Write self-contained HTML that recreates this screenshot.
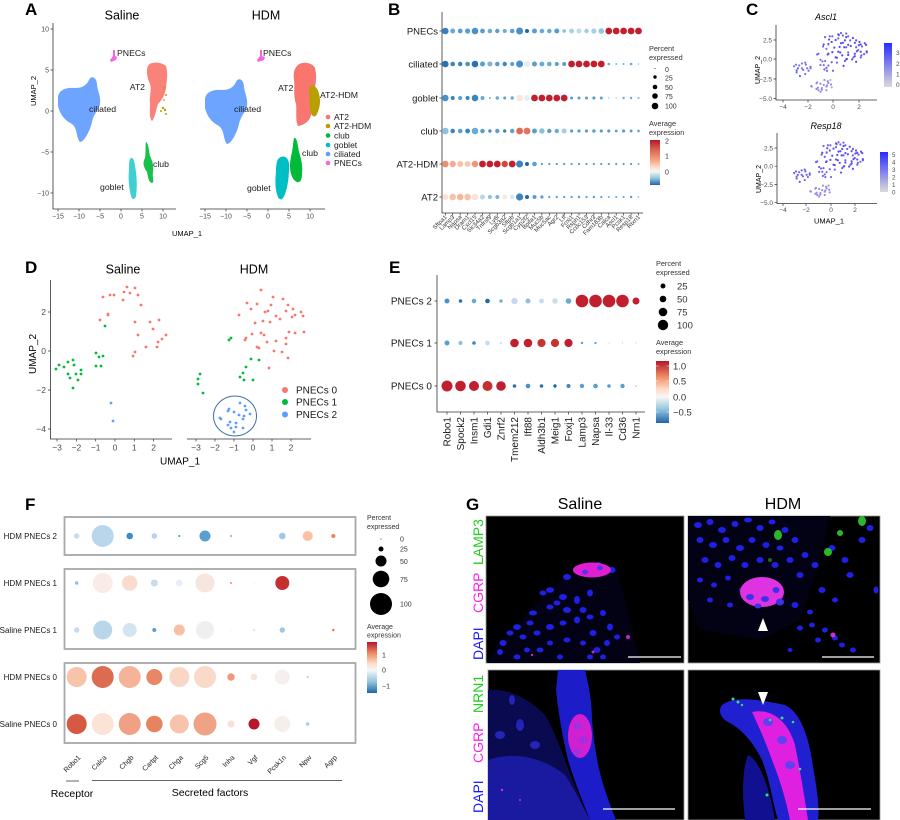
<!DOCTYPE html>
<html><head><meta charset="utf-8"><style>
html,body{margin:0;padding:0;background:#fff;}
svg{display:block;font-family:"Liberation Sans",Arial,sans-serif;}
.ax{stroke:#333;stroke-width:0.8;fill:none}
.tk{stroke:#333;stroke-width:0.7}
.pt{fill:none;stroke-linecap:round}
.lt{font-weight:bold;font-size:17px;fill:#000}
</style></head><body>
<svg width="900" height="820" viewBox="0 0 900 820" xmlns="http://www.w3.org/2000/svg">
<defs>
<linearGradient id="rdbuB" x1="0" y1="0" x2="0" y2="1">
<stop offset="0" stop-color="#b2182b"/><stop offset="0.2" stop-color="#d6604d"/><stop offset="0.45" stop-color="#f4a582"/><stop offset="0.6" stop-color="#fddbc7"/><stop offset="0.7" stop-color="#f7f7f7"/><stop offset="0.85" stop-color="#92c5de"/><stop offset="1" stop-color="#2166ac"/></linearGradient>
<linearGradient id="rdbuE" x1="0" y1="0" x2="0" y2="1">
<stop offset="0" stop-color="#b2182b"/><stop offset="0.25" stop-color="#ef8a62"/><stop offset="0.45" stop-color="#fddbc7"/><stop offset="0.58" stop-color="#f7f7f7"/><stop offset="0.78" stop-color="#92c5de"/><stop offset="1" stop-color="#2166ac"/></linearGradient>
<linearGradient id="rdbuF" x1="0" y1="0" x2="0" y2="1">
<stop offset="0" stop-color="#b2182b"/><stop offset="0.22" stop-color="#ef8a62"/><stop offset="0.42" stop-color="#fddbc7"/><stop offset="0.55" stop-color="#f7f7f7"/><stop offset="0.78" stop-color="#92c5de"/><stop offset="1" stop-color="#2166ac"/></linearGradient>
<linearGradient id="pur" x1="0" y1="0" x2="0" y2="1"><stop offset="0" stop-color="#2a2aff"/><stop offset="1" stop-color="#dadada"/></linearGradient>
<path id="sR" vector-effect="non-scaling-stroke" d="M103 297h.01M110 295h.01M114 295h.01M124 292h.01M130 293h.01M127 287h.01M135 288h.01M138 295h.01M123 300h.01M141 305h.01M108 314h.01M108 315h.01M100 320h.01M135 322h.01M150 322h.01M159 320h.01M153 329h.01M138 335h.01M166 335h.01M162 339h.01M158 342h.01M146 347h.01M157 347h.01M135 352h.01M133 356h.01"/>
<path id="sG" vector-effect="non-scaling-stroke" d="M105 326h.01M96 353h.01M99 357h.01M103 356h.01M96 366h.01M101 366h.01M56 369h.01M59 365h.01M64 367h.01M68 362h.01M73 360h.01M74 365h.01M68 374h.01M76 374h.01M81 370h.01M81 374h.01M70 378h.01M78 380h.01M73 388h.01"/>
<path id="sB" vector-effect="non-scaling-stroke" d="M111 403h.01M113 421h.01"/>
<path id="hR" vector-effect="non-scaling-stroke" d="M261 290h.01M239 315h.01M247 303h.01M251 309h.01M257 304h.01M265 312h.01M268 311h.01M273 297h.01M271 305h.01M283 299h.01M288 305h.01M286 311h.01M293 309h.01M295 315h.01M301 312h.01M303 316h.01M292 317h.01M280 319h.01M276 316h.01M270 322h.01M263 321h.01M255 323h.01M261 333h.01M264 335h.01M252 334h.01M246 338h.01M245 340h.01M257 347h.01M259 348h.01M267 342h.01M276 341h.01M286 338h.01M289 332h.01M295 333h.01M304 332h.01M274 351h.01M282 352h.01M286 344h.01M288 358h.01M269 368h.01"/>
<path id="hG" vector-effect="non-scaling-stroke" d="M229 340h.01M231 338h.01M251 359h.01M259 360h.01M246 367h.01M243 373h.01M240 377h.01M244 380h.01M253 380h.01M200 374h.01M198 379h.01M198 384h.01M203 393h.01"/>
<path id="hB" vector-effect="non-scaling-stroke" d="M240 403h.01M228 411h.01M234 412h.01M239 415h.01M246 410h.01M221 419h.01M230 422h.01M236 423h.01M243 419h.01M244 416h.01M228 425h.01M231 428h.01M236 427h.01M243 428h.01M234 432h.01M250 414h.01M220 418h.01M245 406h.01M229 409h.01"/>
<path id="cil" d="M58,98 C58,90 66,87 75,88 C82,88 86,86 89,80 C91,75 97,77 97,85 C98,92 101,97 100,104 C99,110 94,113 92,122 C90,131 84,142 80,142 C76,138 78,129 72,124 C64,120 60,114 58,106 Z"/>
</defs>

<!-- ============ PANEL A ============ -->
<text class="lt" x="25" y="15">A</text>
<text x="122" y="19.5" font-size="12.5" text-anchor="middle">Saline</text>
<text x="266" y="19.5" font-size="12.5" text-anchor="middle">HDM</text>
<path class="ax" d="M53 23V209H176M200 209H325"/>
<g class="tk"><path d="M50.5 29H53M50.5 70H53M50.5 111H53M50.5 152H53M50.5 193H53M58 209v2.5M79 209v2.5M100 209v2.5M121 209v2.5M142 209v2.5M163 209v2.5M205 209v2.5M226 209v2.5M247 209v2.5M268 209v2.5M289 209v2.5M310 209v2.5"/></g>
<g font-size="7" fill="#4d4d4d" text-anchor="end"><text x="49" y="31.5">10</text><text x="49" y="72.5">5</text><text x="49" y="113.5">0</text><text x="49" y="154.5">−5</text><text x="49" y="195.5">−10</text></g>
<g font-size="7" fill="#4d4d4d" text-anchor="middle"><text x="58" y="218.5">−15</text><text x="79" y="218.5">−10</text><text x="100" y="218.5">−5</text><text x="121" y="218.5">0</text><text x="142" y="218.5">5</text><text x="163" y="218.5">10</text><text x="205" y="218.5">−15</text><text x="226" y="218.5">−10</text><text x="247" y="218.5">−5</text><text x="268" y="218.5">0</text><text x="289" y="218.5">5</text><text x="310" y="218.5">10</text></g>
<text x="187" y="236" font-size="7.5" text-anchor="middle">UMAP_1</text>
<text transform="translate(36,91) rotate(-90)" font-size="7.5" text-anchor="middle">UMAP_2</text>
<use href="#cil" fill="#619CFF" opacity="0.92"/>
<path d="M148,66 C150,61 162,62 166,66 C168,72 167,80 166,88 C165,95 162,100 158,104 C156,110 155,118 152,121 C149,118 150,110 150,104 C149,96 152,90 150,84 C147,78 146,70 148,66 Z" fill="#F8766D" opacity="0.9"/>
<g fill="#B79F00"><circle cx="164" cy="88" r="1"/><circle cx="166" cy="95" r="1"/><circle cx="163" cy="108" r="1.2"/><circle cx="165" cy="110" r="1.2"/><circle cx="161" cy="111" r="1"/><circle cx="166" cy="114" r="1"/><circle cx="164" cy="100" r="0.9"/></g>
<path d="M146,142 C148,142 149,150 150,156 C152,160 154,165 153,172 C152,178 155,182 152,183 C148,182 148,176 147,172 C144,168 142,163 145,158 C146,152 145,146 146,142 Z" fill="#00BA38" opacity="0.9"/>
<path d="M131,158 C134,157 135,164 136,172 C137,180 137,190 136,196 C135,200 132,200 131,196 C129,188 128,178 129,170 C129,164 129,159 131,158 Z" fill="#00BFC4" opacity="0.75"/>
<path d="M113,50 L115,50 L115,56 L117,57 L116,60 L111,62 L110,60 L113,56 Z" fill="#F564E3"/>
<use href="#cil" transform="translate(147,2)" fill="#619CFF" opacity="0.92"/>
<path d="M297,66 C301,61 312,62 315,68 C317,76 316,84 314,92 C313,100 314,110 310,118 C307,124 300,126 298,126 C295,120 297,110 296,104 C293,96 295,88 294,80 C293,74 294,69 297,66 Z" fill="#F8766D"/>
<path d="M310,86 C314,84 318,88 319,94 C321,100 320,108 317,114 C315,118 312,117 311,112 C309,106 310,98 309,92 Z" fill="#B79F00"/>
<path d="M294,138 C297,137 298,146 299,152 C301,158 303,166 302,174 C302,180 300,183 297,182 C292,180 290,172 290,166 C290,158 293,150 293,144 Z" fill="#00BA38"/>
<path d="M281,157 C286,155 290,160 289,168 C289,176 288,186 285,194 C283,200 280,201 278,197 C275,190 275,180 276,172 C276,164 277,158 281,157 Z" fill="#00BFC4"/>
<path d="M260,50 L262,50 L262,56 L265,57 L264,60 L258,62 L257,60 L260,56 Z" fill="#F564E3"/>
<g font-size="8.7" fill="#1a1a1a">
<text x="117" y="56">PNECs</text><text x="145" y="90" text-anchor="end">AT2</text><text x="89" y="112">ciliated</text><text x="153" y="167">club</text><text x="100" y="190">goblet</text>
<text x="263" y="56">PNECs</text><text x="278" y="91">AT2</text><text x="320" y="98">AT2-HDM</text><text x="234" y="112">ciliated</text><text x="302" y="156">club</text><text x="247" y="191">goblet</text>
</g>
<g><circle cx="328" cy="117" r="2.3" fill="#F8766D"/><circle cx="328" cy="126" r="2.3" fill="#B79F00"/><circle cx="328" cy="135.5" r="2.3" fill="#00BA38"/><circle cx="328" cy="145" r="2.3" fill="#00BFC4"/><circle cx="328" cy="154" r="2.3" fill="#619CFF"/><circle cx="328" cy="163" r="2.3" fill="#F564E3"/></g>
<g font-size="8.5" fill="#1a1a1a"><text x="334" y="120">AT2</text><text x="334" y="129">AT2-HDM</text><text x="334" y="138.5">club</text><text x="334" y="148">goblet</text><text x="334" y="157">ciliated</text><text x="334" y="166">PNECs</text></g>

<!-- ============ PANEL B ============ -->
<text class="lt" x="388" y="15">B</text>
<path class="ax" d="M442 12V213H643"/>
<g class="tk"><path d="M439.5 31H442M439.5 64H442M439.5 98H442M439.5 131H442M439.5 164H442M439.5 197H442"/>
<path d="M445.3 213v2.5M452.7 213v2.5M460.2 213v2.5M467.6 213v2.5M475 213v2.5M482.5 213v2.5M489.9 213v2.5M497.3 213v2.5M504.7 213v2.5M512.2 213v2.5M519.6 213v2.5M527 213v2.5M534.5 213v2.5M541.9 213v2.5M549.3 213v2.5M556.8 213v2.5M564.2 213v2.5M571.6 213v2.5M579 213v2.5M586.5 213v2.5M593.9 213v2.5M601.3 213v2.5M608.8 213v2.5M616.2 213v2.5M623.6 213v2.5M631.1 213v2.5M638.5 213v2.5"/></g>
<g font-size="9.5" fill="#1a1a1a" text-anchor="end"><text x="438" y="34.5">PNECs</text><text x="438" y="67.5">ciliated</text><text x="438" y="101.5">goblet</text><text x="438" y="134.5">club</text><text x="438" y="167.5">AT2-HDM</text><text x="438" y="200.5">AT2</text></g>
<g transform="translate(0,31)">
<circle cx="445.3" r="3.3" fill="#3a7fbb"/><circle cx="452.7" r="2.5" fill="#6aaad6"/><circle cx="460.2" r="2.4" fill="#5a9ecf"/><circle cx="467.6" r="2.6" fill="#5a9ecf"/><circle cx="475" r="3.3" fill="#4a90c8"/><circle cx="482.5" r="2.4" fill="#5a9ecf"/><circle cx="489.9" r="2.3" fill="#6aaad6"/><circle cx="497.3" r="2.2" fill="#5a9ecf"/><circle cx="504.7" r="2" fill="#6aaad6"/><circle cx="512.2" r="2.3" fill="#5a9ecf"/><circle cx="519.6" r="3.5" fill="#4a90c8"/><circle cx="527" r="2" fill="#2166ac"/><circle cx="534.5" r="2.5" fill="#5a9ecf"/><circle cx="541.9" r="2.3" fill="#6aaad6"/><circle cx="549.3" r="2.3" fill="#6aaad6"/><circle cx="556.8" r="2.5" fill="#5a9ecf"/><circle cx="564.2" r="1.8" fill="#8cc0dd"/><circle cx="571.6" r="2.4" fill="#a8d0e6"/><circle cx="579" r="2.5" fill="#bcdaeb"/><circle cx="586.5" r="2.2" fill="#a0cbe3"/><circle cx="593.9" r="2.6" fill="#a8d0e6"/><circle cx="601.3" r="2.8" fill="#92c5de"/>
<circle cx="608.8" r="3.4" fill="#c11f2f"/><circle cx="616.2" r="3.4" fill="#c11f2f"/><circle cx="623.6" r="3.4" fill="#c11f2f"/><circle cx="631.1" r="3.4" fill="#c11f2f"/><circle cx="638.5" r="3.4" fill="#c11f2f"/></g>
<g transform="translate(0,64)">
<circle cx="445.3" r="3.3" fill="#2c72b0"/><circle cx="452.7" r="2.3" fill="#3b85bf"/><circle cx="460.2" r="2.3" fill="#3b85bf"/><circle cx="467.6" r="2.3" fill="#4a90c8"/><circle cx="475" r="3.3" fill="#2c72b0"/><circle cx="482.5" r="2.5" fill="#5a9ecf"/><circle cx="489.9" r="2.5" fill="#7ab4da"/><circle cx="497.3" r="2.3" fill="#5a9ecf"/><circle cx="504.7" r="2.2" fill="#3b85bf"/><circle cx="512.2" r="2" fill="#5a9ecf"/><circle cx="519.6" r="3.5" fill="#4a90c8"/><circle cx="527" r="3" fill="#e3eef6"/><circle cx="534.5" r="2.5" fill="#5a9ecf"/><circle cx="541.9" r="2.4" fill="#6aaad6"/><circle cx="549.3" r="2.3" fill="#6aaad6"/><circle cx="556.8" r="2" fill="#5a9ecf"/><circle cx="564.2" r="2" fill="#5a9ecf"/>
<circle cx="571.6" r="3.4" fill="#c11f2f"/><circle cx="579" r="3.4" fill="#c11f2f"/><circle cx="586.5" r="3.4" fill="#c11f2f"/><circle cx="593.9" r="3.4" fill="#c11f2f"/><circle cx="601.3" r="3.4" fill="#c11f2f"/>
<circle cx="608.8" r="1.3" fill="#6aaad6"/><circle cx="616.2" r="0.9" fill="#6aaad6"/><circle cx="623.6" r="1" fill="#6aaad6"/><circle cx="631.1" r="1.3" fill="#6aaad6"/><circle cx="638.5" r="0.8" fill="#8cc0dd"/></g>
<g transform="translate(0,98)">
<circle cx="445.3" r="3.3" fill="#4a90c8"/><circle cx="452.7" r="2" fill="#3b85bf"/><circle cx="460.2" r="2" fill="#5a9ecf"/><circle cx="467.6" r="2" fill="#3b85bf"/><circle cx="475" r="3.3" fill="#3b85bf"/><circle cx="482.5" r="2" fill="#6aaad6"/><circle cx="489.9" r="1" fill="#6aaad6"/><circle cx="497.3" r="1.7" fill="#6aaad6"/><circle cx="504.7" r="1.5" fill="#5a9ecf"/><circle cx="512.2" r="1.7" fill="#6aaad6"/><circle cx="519.6" r="3.3" fill="#f9e6de"/><circle cx="527" r="3" fill="#e8eff5"/>
<circle cx="534.5" r="3.4" fill="#c11f2f"/><circle cx="541.9" r="3.4" fill="#c11f2f"/><circle cx="549.3" r="3.4" fill="#c11f2f"/><circle cx="556.8" r="3.4" fill="#c11f2f"/><circle cx="564.2" r="3.4" fill="#c11f2f"/>
<circle cx="571.6" r="1.5" fill="#5a9ecf"/><circle cx="579" r="1.5" fill="#5a9ecf"/><circle cx="586.5" r="1.5" fill="#5a9ecf"/><circle cx="593.9" r="1.6" fill="#5a9ecf"/><circle cx="601.3" r="1.5" fill="#5a9ecf"/><circle cx="608.8" r="0.8" fill="#a6cde5"/><circle cx="616.2" r="0.7" fill="#a6cde5"/><circle cx="623.6" r="1.2" fill="#6aaad6"/><circle cx="631.1" r="1.2" fill="#6aaad6"/><circle cx="638.5" r="1.1" fill="#8cc0dd"/></g>
<g transform="translate(0,131)">
<circle cx="445.3" r="3.3" fill="#8cc0dd"/><circle cx="452.7" r="2.3" fill="#3b85bf"/><circle cx="460.2" r="2.3" fill="#5a9ecf"/><circle cx="467.6" r="2.4" fill="#3b85bf"/><circle cx="475" r="3.3" fill="#6aaad6"/><circle cx="482.5" r="2.3" fill="#5a9ecf"/><circle cx="489.9" r="1.7" fill="#4a90c8"/><circle cx="497.3" r="2.2" fill="#5a9ecf"/><circle cx="504.7" r="1.7" fill="#3b85bf"/><circle cx="512.2" r="2.2" fill="#5a9ecf"/><circle cx="519.6" r="3.4" fill="#e0694f"/><circle cx="527" r="3.4" fill="#e57358"/><circle cx="534.5" r="2.5" fill="#5a9ecf"/><circle cx="541.9" r="2.7" fill="#8cc0dd"/><circle cx="549.3" r="2.2" fill="#5a9ecf"/><circle cx="556.8" r="2.2" fill="#6aaad6"/><circle cx="564.2" r="2.5" fill="#a6cde5"/>
<circle cx="571.6" r="1.6" fill="#5a9ecf"/><circle cx="579" r="1.6" fill="#5a9ecf"/><circle cx="586.5" r="1.6" fill="#5a9ecf"/><circle cx="593.9" r="1.7" fill="#5a9ecf"/><circle cx="601.3" r="1.6" fill="#5a9ecf"/><circle cx="608.8" r="1.6" fill="#5a9ecf"/><circle cx="616.2" r="1.4" fill="#5a9ecf"/><circle cx="623.6" r="1.6" fill="#5a9ecf"/><circle cx="631.1" r="1.5" fill="#5a9ecf"/><circle cx="638.5" r="1.4" fill="#6aaad6"/></g>
<g transform="translate(0,164)">
<circle cx="445.3" r="3.3" fill="#ec8f6f"/><circle cx="452.7" r="3.2" fill="#f3ad92"/><circle cx="460.2" r="3" fill="#f6c2aa"/><circle cx="467.6" r="3" fill="#f7c9b4"/><circle cx="475" r="3.2" fill="#ee9777"/>
<circle cx="482.5" r="3.4" fill="#c11f2f"/><circle cx="489.9" r="3.4" fill="#c11f2f"/><circle cx="497.3" r="3.4" fill="#c11f2f"/><circle cx="504.7" r="3.2" fill="#d04a3c"/><circle cx="512.2" r="3.4" fill="#c11f2f"/>
<circle cx="519.6" r="3.5" fill="#3b85bf"/><circle cx="527" r="2" fill="#2166ac"/><circle cx="534.5" r="2.3" fill="#5a9ecf"/>
<circle cx="541.9" r="1.1" fill="#5a9ecf"/><circle cx="549.3" r="1.1" fill="#5a9ecf"/><circle cx="556.8" r="1.1" fill="#5a9ecf"/><circle cx="564.2" r="1.1" fill="#5a9ecf"/><circle cx="571.6" r="1.1" fill="#5a9ecf"/><circle cx="579" r="1.1" fill="#5a9ecf"/><circle cx="586.5" r="1.1" fill="#5a9ecf"/><circle cx="593.9" r="1.1" fill="#5a9ecf"/><circle cx="601.3" r="1.1" fill="#5a9ecf"/><circle cx="608.8" r="1.1" fill="#5a9ecf"/><circle cx="616.2" r="1.1" fill="#5a9ecf"/><circle cx="623.6" r="1.1" fill="#5a9ecf"/><circle cx="631.1" r="1.1" fill="#5a9ecf"/><circle cx="638.5" r="1" fill="#6aaad6"/></g>
<g transform="translate(0,197)">
<circle cx="445.3" r="3" fill="#fbe0d3"/><circle cx="452.7" r="3.3" fill="#f6c3ab"/><circle cx="460.2" r="3.3" fill="#f5b89d"/><circle cx="467.6" r="3.3" fill="#f6c3ab"/><circle cx="475" r="3.3" fill="#fbe3d6"/><circle cx="482.5" r="2.5" fill="#b8d8ea"/><circle cx="489.9" r="2" fill="#8cc0dd"/><circle cx="497.3" r="2" fill="#7ab4da"/><circle cx="504.7" r="2.3" fill="#fbe6dd"/><circle cx="512.2" r="2.3" fill="#d6e8f2"/><circle cx="519.6" r="3.6" fill="#3b85bf"/><circle cx="527" r="2" fill="#2166ac"/><circle cx="534.5" r="2" fill="#5a9ecf"/><circle cx="541.9" r="1.6" fill="#5a9ecf"/>
<circle cx="549.3" r="1.1" fill="#5a9ecf"/><circle cx="556.8" r="1.1" fill="#5a9ecf"/><circle cx="564.2" r="1.1" fill="#5a9ecf"/><circle cx="571.6" r="1.1" fill="#5a9ecf"/><circle cx="579" r="1.2" fill="#5a9ecf"/><circle cx="586.5" r="1.1" fill="#5a9ecf"/><circle cx="593.9" r="1.2" fill="#5a9ecf"/><circle cx="601.3" r="1.1" fill="#5a9ecf"/><circle cx="608.8" r="1" fill="#6aaad6"/><circle cx="616.2" r="1" fill="#6aaad6"/><circle cx="623.6" r="1" fill="#5a9ecf"/><circle cx="631.1" r="1.2" fill="#5a9ecf"/><circle cx="638.5" r="0.9" fill="#8cc0dd"/></g>
<g font-size="6" fill="#333" text-anchor="end">
<text transform="translate(447.3,217.5) rotate(-45)">Sftpa1</text><text transform="translate(454.7,217.5) rotate(-45)">Lamp3</text><text transform="translate(462.2,217.5) rotate(-45)">Napsa</text><text transform="translate(469.6,217.5) rotate(-45)">Dram1</text><text transform="translate(477,217.5) rotate(-45)">Cxcl15</text><text transform="translate(484.5,217.5) rotate(-45)">Slc34a2</text><text transform="translate(491.9,217.5) rotate(-45)">Tnfrsf9</text><text transform="translate(499.3,217.5) rotate(-45)">Ly6i</text><text transform="translate(506.7,217.5) rotate(-45)">Scgb3a2</text><text transform="translate(514.2,217.5) rotate(-45)">Sftpb</text><text transform="translate(521.6,217.5) rotate(-45)">Scgb1a1</text><text transform="translate(529,217.5) rotate(-45)">Cyp2f2</text><text transform="translate(536.5,217.5) rotate(-45)">Bpifa1</text><text transform="translate(543.9,217.5) rotate(-45)">Muc5b</text><text transform="translate(551.3,217.5) rotate(-45)">Muc5ac</text><text transform="translate(558.8,217.5) rotate(-45)">Agr2</text><text transform="translate(566.2,217.5) rotate(-45)">Ltf</text><text transform="translate(573.6,217.5) rotate(-45)">Foxj1</text><text transform="translate(581,217.5) rotate(-45)">Rsph1</text><text transform="translate(588.5,217.5) rotate(-45)">Ccdc153</text><text transform="translate(595.9,217.5) rotate(-45)">Cdhr3</text><text transform="translate(603.3,217.5) rotate(-45)">Fam183b</text><text transform="translate(610.8,217.5) rotate(-45)">Calca</text><text transform="translate(618.2,217.5) rotate(-45)">Ascl1</text><text transform="translate(625.6,217.5) rotate(-45)">Pcsk1</text><text transform="translate(633.1,217.5) rotate(-45)">Resp18</text><text transform="translate(640.5,217.5) rotate(-45)">Rtxn1</text>
</g>
<g font-size="7.3" fill="#333"><text x="649" y="51">Percent</text><text x="649" y="60">expressed</text><text x="649" y="126">Average</text><text x="649" y="135">expression</text></g>
<g fill="#000"><circle cx="655" cy="68.5" r="0.5"/><circle cx="655" cy="77" r="1.7"/><circle cx="655" cy="87" r="2.3"/><circle cx="655" cy="96" r="2.8"/><circle cx="655" cy="106" r="3.3"/></g>
<g font-size="7" fill="#333"><text x="665" y="72">0</text><text x="665" y="80.5">25</text><text x="665" y="90">50</text><text x="665" y="99">75</text><text x="665" y="108.5">100</text></g>
<rect x="650" y="140" width="10" height="45" fill="url(#rdbuB)"/>
<g font-size="7" fill="#333"><text x="665" y="143.5">2</text><text x="665" y="158.5">1</text><text x="665" y="174.5">0</text></g>

<!-- ============ PANEL C ============ -->
<text class="lt" x="746" y="15">C</text>
<text x="826" y="20" font-size="9" font-style="italic" text-anchor="middle">Ascl1</text>
<path class="ax" d="M776 25V100H877"/>
<g class="tk"><path d="M773.5 40H776M773.5 59H776M773.5 79H776M773.5 98.5H776M783 100v2.5M808 100v2.5M833 100v2.5M859 100v2.5"/></g>
<g font-size="6.5" fill="#4d4d4d" text-anchor="end"><text x="772" y="42.3">2.5</text><text x="772" y="61.3">0.0</text><text x="772" y="81.3">−2.5</text><text x="772" y="100.8">−5.0</text></g>
<g font-size="6.5" fill="#4d4d4d" text-anchor="middle"><text x="783" y="109">−4</text><text x="808" y="109">−2</text><text x="833" y="109">0</text><text x="859" y="109">2</text></g>
<text transform="translate(760,70) rotate(-90)" font-size="7" text-anchor="middle">UMAP_2</text>
<g class="pt" stroke-width="2.2">
<g transform="translate(833,59) scale(0.661,0.405) translate(-115,-351)"><use href="#sR" stroke="#6a5ef2"/><use href="#sG" stroke="#7a70ee"/><use href="#sB" stroke="#b0acdc"/></g>
<g transform="translate(833,59) scale(0.661,0.405) translate(-253,-351)"><use href="#hR" stroke="#5447f6"/><use href="#hG" stroke="#6e63f0"/><use href="#hB" stroke="#9089ea"/></g>
</g>
<rect x="884" y="43" width="8" height="44" fill="url(#pur)"/>
<g font-size="6.5" fill="#4d4d4d"><text x="896" y="55">3</text><text x="896" y="66">2</text><text x="896" y="76.5">1</text><text x="896" y="87">0</text></g>

<text x="826" y="129" font-size="9" font-style="italic" text-anchor="middle">Resp18</text>
<path class="ax" d="M777 133V203.5H877"/>
<g class="tk"><path d="M774.5 148H777M774.5 166.2H777M774.5 184.5H777M774.5 202.7H777M783 203.5v2.5M806 203.5v2.5M831 203.5v2.5M855 203.5v2.5"/></g>
<g font-size="6.5" fill="#4d4d4d" text-anchor="end"><text x="773" y="150.3">2.5</text><text x="773" y="168.5">0.0</text><text x="773" y="186.8">−2.5</text><text x="773" y="205">−5.0</text></g>
<g font-size="6.5" fill="#4d4d4d" text-anchor="middle"><text x="783" y="212">−4</text><text x="806" y="212">−2</text><text x="831" y="212">0</text><text x="855" y="212">2</text></g>
<text transform="translate(761,179) rotate(-90)" font-size="7" text-anchor="middle">UMAP_2</text>
<text x="829" y="223.5" font-size="7.5" text-anchor="middle">UMAP_1</text>
<g class="pt" stroke-width="2.2">
<g transform="translate(831,166.2) scale(0.625,0.374) translate(-115,-351)"><use href="#sR" stroke="#6c61f0"/><use href="#sG" stroke="#6a5ff0"/><use href="#sB" stroke="#9d96e8"/></g>
<g transform="translate(831,166.2) scale(0.625,0.374) translate(-253,-351)"><use href="#hR" stroke="#5a4cf3"/><use href="#hG" stroke="#6c62f0"/><use href="#hB" stroke="#958eea"/></g>
</g>
<rect x="880" y="152" width="8" height="40" fill="url(#pur)"/>
<g font-size="6.2" fill="#4d4d4d"><text x="892" y="157">5</text><text x="892" y="164.5">4</text><text x="892" y="172">3</text><text x="892" y="179.5">2</text><text x="892" y="187">1</text><text x="892" y="194.5">0</text></g>

<!-- ============ PANEL D ============ -->
<text class="lt" x="25" y="273">D</text>
<text x="123" y="273.5" font-size="12.5" text-anchor="middle">Saline</text>
<text x="254" y="273.5" font-size="12.5" text-anchor="middle">HDM</text>
<path class="ax" d="M50.5 280V439H172M187 439H311"/>
<g class="tk"><path d="M48 312H50.5M48 351H50.5M48 390H50.5M48 429H50.5M57 439v2.5M76.4 439v2.5M95.7 439v2.5M115 439v2.5M134.3 439v2.5M153.6 439v2.5M196 439v2.5M215 439v2.5M234 439v2.5M253 439v2.5M272 439v2.5M291 439v2.5"/></g>
<g font-size="8.5" fill="#4d4d4d" text-anchor="end"><text x="46" y="315">2</text><text x="46" y="354">0</text><text x="46" y="393">−2</text><text x="46" y="432">−4</text></g>
<g font-size="8.5" fill="#4d4d4d" text-anchor="middle"><text x="57" y="450.5">−3</text><text x="76.4" y="450.5">−2</text><text x="95.7" y="450.5">−1</text><text x="115" y="450.5">0</text><text x="134.3" y="450.5">1</text><text x="153.6" y="450.5">2</text><text x="196" y="450.5">−3</text><text x="215" y="450.5">−2</text><text x="234" y="450.5">−1</text><text x="253" y="450.5">0</text><text x="272" y="450.5">1</text><text x="291" y="450.5">2</text></g>
<text x="180" y="464.5" font-size="10" text-anchor="middle">UMAP_1</text>
<text transform="translate(36,354) rotate(-90)" font-size="10" text-anchor="middle">UMAP_2</text>
<g class="pt" stroke-width="2.8">
<use href="#sR" stroke="#F8766D"/><use href="#sG" stroke="#00BA38"/><use href="#sB" stroke="#619CFF"/>
<use href="#hR" stroke="#F8766D"/><use href="#hG" stroke="#00BA38"/><use href="#hB" stroke="#619CFF"/>
</g>
<ellipse cx="235" cy="416" rx="21.5" ry="20" fill="none" stroke="#3d6fa6" stroke-width="1"/>
<circle cx="285" cy="390" r="3" fill="#F8766D"/><circle cx="285" cy="402" r="3" fill="#00BA38"/><circle cx="285" cy="414.5" r="3" fill="#619CFF"/>
<g font-size="10" fill="#1a1a1a"><text x="296" y="393.5">PNECs 0</text><text x="296" y="405.5">PNECs 1</text><text x="296" y="418">PNECs 2</text></g>

<!-- ============ PANEL E ============ -->
<text class="lt" x="389" y="273">E</text>
<path class="ax" d="M437 275V412H645"/>
<g class="tk"><path d="M434.5 301H437M434.5 343H437M434.5 386H437M447 412v2.5M460.5 412v2.5M474 412v2.5M487.5 412v2.5M501 412v2.5M514.5 412v2.5M528 412v2.5M541.5 412v2.5M555 412v2.5M568.5 412v2.5M582 412v2.5M595.5 412v2.5M609 412v2.5M622.5 412v2.5M636 412v2.5"/></g>
<g font-size="10" fill="#1a1a1a" text-anchor="end"><text x="432" y="304.5">PNECs 2</text><text x="432" y="346.5">PNECs 1</text><text x="432" y="389.5">PNECs 0</text></g>
<g transform="translate(0,301)">
<circle cx="447" r="2.5" fill="#4a90c8"/><circle cx="460.5" r="1.8" fill="#2c72b0"/><circle cx="474" r="2.3" fill="#6aaad6"/><circle cx="487.5" r="2.3" fill="#2166ac"/><circle cx="501" r="1.8" fill="#7ab4da"/><circle cx="514.5" r="3.2" fill="#c6dbef"/><circle cx="528" r="2.5" fill="#8cc0dd"/><circle cx="541.5" r="2.4" fill="#c6dbef"/><circle cx="555" r="2.8" fill="#c9dfef"/><circle cx="568.5" r="2.8" fill="#6aaad6"/><circle cx="582" r="6.3" fill="#c11f2f"/><circle cx="595.5" r="6.3" fill="#c11f2f"/><circle cx="609" r="6.3" fill="#c11f2f"/><circle cx="622.5" r="6.3" fill="#c11f2f"/><circle cx="636" r="3.5" fill="#c11f2f"/></g>
<g transform="translate(0,343)">
<circle cx="447" r="2.5" fill="#5a9ecf"/><circle cx="460.5" r="2" fill="#8cc0dd"/><circle cx="474" r="1.8" fill="#3b85bf"/><circle cx="487.5" r="2.3" fill="#c6dbef"/><circle cx="501" r="0.7" fill="#8cc0dd"/><circle cx="514.5" r="4.3" fill="#c11f2f"/><circle cx="528" r="4.3" fill="#c11f2f"/><circle cx="541.5" r="4.1" fill="#c8322f"/><circle cx="555" r="4.1" fill="#c8322f"/><circle cx="568.5" r="4.1" fill="#c11f2f"/><circle cx="582" r="1.2" fill="#5a9ecf"/><circle cx="595.5" r="1.1" fill="#5a9ecf"/><circle cx="609" r="0.5" fill="#8cc0dd"/><circle cx="622.5" r="0.5" fill="#8cc0dd"/><circle cx="636" r="0.5" fill="#8cc0dd"/></g>
<g transform="translate(0,386)">
<circle cx="447" r="5.5" fill="#c11f2f"/><circle cx="460.5" r="5.3" fill="#c11f2f"/><circle cx="474" r="5" fill="#c11f2f"/><circle cx="487.5" r="5" fill="#c4302f"/><circle cx="501" r="4.8" fill="#c11f2f"/><circle cx="514.5" r="1.8" fill="#2c72b0"/><circle cx="528" r="2.3" fill="#4a90c8"/><circle cx="541.5" r="1.8" fill="#2c72b0"/><circle cx="555" r="1.7" fill="#2166ac"/><circle cx="568.5" r="2" fill="#3b85bf"/><circle cx="582" r="2.2" fill="#5a9ecf"/><circle cx="595.5" r="2.3" fill="#5a9ecf"/><circle cx="609" r="1.8" fill="#5a9ecf"/><circle cx="622.5" r="2.2" fill="#5a9ecf"/><circle cx="636" r="0.8" fill="#8cc0dd"/></g>
<g font-size="10" fill="#1a1a1a" text-anchor="end">
<text transform="translate(450.5,417) rotate(-90)">Robo1</text><text transform="translate(464,417) rotate(-90)">Spock2</text><text transform="translate(477.5,417) rotate(-90)">Insm1</text><text transform="translate(491,417) rotate(-90)">Gdi1</text><text transform="translate(504.5,417) rotate(-90)">Znrf2</text><text transform="translate(518,417) rotate(-90)">Tmem212</text><text transform="translate(531.5,417) rotate(-90)">Ift88</text><text transform="translate(545,417) rotate(-90)">Aldh3b1</text><text transform="translate(558.5,417) rotate(-90)">Meig1</text><text transform="translate(572,417) rotate(-90)">Foxj1</text><text transform="translate(585.5,417) rotate(-90)">Lamp3</text><text transform="translate(599,417) rotate(-90)">Napsa</text><text transform="translate(612.5,417) rotate(-90)">Il-33</text><text transform="translate(626,417) rotate(-90)">Cd36</text><text transform="translate(639.5,417) rotate(-90)">Nrn1</text>
</g>
<g font-size="7.3" fill="#333"><text x="656" y="266">Percent</text><text x="656" y="275">expressed</text><text x="656" y="345">Average</text><text x="656" y="354">expression</text></g>
<g fill="#000"><circle cx="663" cy="286" r="2.5"/><circle cx="663" cy="299" r="3.3"/><circle cx="663" cy="312" r="4.3"/><circle cx="663" cy="325" r="5.2"/></g>
<g font-size="9.5" fill="#333"><text x="677" y="289.5">25</text><text x="677" y="302.5">50</text><text x="677" y="315.5">75</text><text x="677" y="328.5">100</text></g>
<rect x="656" y="361" width="13" height="62" fill="url(#rdbuE)"/>
<g stroke="#fff" stroke-width="0.6"><path d="M656 366h2.5M666.5 366h2.5M656 381h2.5M666.5 381h2.5M656 397h2.5M666.5 397h2.5M656 412h2.5M666.5 412h2.5"/></g>
<g font-size="9.5" fill="#333"><text x="673" y="369.5">1.0</text><text x="673" y="384.5">0.5</text><text x="673" y="400.5">0.0</text><text x="673" y="415.5">−0.5</text></g>

<!-- ============ PANEL F ============ -->
<text class="lt" x="25" y="510">F</text>
<g fill="none" stroke="#a8a8a8" stroke-width="1.8"><rect x="64.5" y="517" width="291" height="38"/><rect x="64.5" y="569" width="291" height="80"/><rect x="64.5" y="663" width="291" height="80"/></g>
<g font-size="8" fill="#1a1a1a" text-anchor="end"><text x="57" y="539">HDM PNECs 2</text><text x="57" y="586">HDM PNECs 1</text><text x="57" y="633">Saline PNECs 1</text><text x="57" y="680">HDM PNECs 0</text><text x="57" y="727">Saline PNECs 0</text></g>
<g transform="translate(0,536)">
<circle cx="76.7" r="2.7" fill="#c6dbef"/><circle cx="102.7" r="11" fill="#b9d6ea"/><circle cx="129.7" r="3.3" fill="#3f8cc6"/><circle cx="154.3" r="2.7" fill="#b3d1ea"/><circle cx="179.3" r="1" fill="#3f8cc6"/><circle cx="205" r="5.5" fill="#5b9ed0"/><circle cx="231" r="1" fill="#7ab4da"/><circle cx="254" r="0.6" fill="#e0e8f0"/><circle cx="282.3" r="3.3" fill="#9ec8e3"/><circle cx="307.7" r="5" fill="#f9c0a3"/><circle cx="333.3" r="2" fill="#ee8456"/></g>
<g transform="translate(0,583)">
<circle cx="76.7" r="1.7" fill="#8ec0df"/><circle cx="102.7" r="10" fill="#f9ebe5"/><circle cx="129.7" r="7.7" fill="#f9dccd"/><circle cx="154.3" r="3.5" fill="#c5dcee"/><circle cx="179.3" r="3.3" fill="#e6edf4"/><circle cx="205" r="9.5" fill="#f7e6de"/><circle cx="231" r="1" fill="#ef8a62"/><circle cx="254" r="0.5" fill="#dde"/><circle cx="282.3" r="7" fill="#c3302f"/><circle cx="307.7" r="0.5" fill="#eee"/><circle cx="333.3" r="0.5" fill="#eee"/></g>
<g transform="translate(0,630)">
<circle cx="76.7" r="2.7" fill="#c6dbef"/><circle cx="102.7" r="9.5" fill="#b9d6ea"/><circle cx="129.7" r="7" fill="#d3e5f1"/><circle cx="154.3" r="2" fill="#5b9ed0"/><circle cx="179.3" r="5.5" fill="#f7bfa4"/><circle cx="205" r="9" fill="#f0efef"/><circle cx="231" r="0.5" fill="#ddd"/><circle cx="254" r="0.8" fill="#a6cde5"/><circle cx="282.3" r="2.7" fill="#9ec8e3"/><circle cx="307.7" r="0.5" fill="#eee"/><circle cx="333.3" r="1.2" fill="#ee6a45"/></g>
<g transform="translate(0,677)">
<circle cx="76.7" r="10" fill="#f7c3a9"/><circle cx="102.7" r="11" fill="#dc6b4f"/><circle cx="129.7" r="11" fill="#f5b498"/><circle cx="154.3" r="8" fill="#e88766"/><circle cx="179.3" r="10" fill="#f9d6c5"/><circle cx="205" r="11" fill="#f9d9c8"/><circle cx="231" r="3.7" fill="#ee9a7a"/><circle cx="254" r="3.3" fill="#f8e4dd"/><circle cx="282.3" r="7.5" fill="#f6efed"/><circle cx="307.7" r="1" fill="#9ec8e3"/><circle cx="333.3" r="0.5" fill="#eee"/></g>
<g transform="translate(0,724)">
<circle cx="76.7" r="10" fill="#d65943"/><circle cx="102.7" r="11" fill="#fbe3d8"/><circle cx="129.7" r="11" fill="#f0a085"/><circle cx="154.3" r="8.3" fill="#e8835f"/><circle cx="179.3" r="9.5" fill="#f7c4ab"/><circle cx="205" r="11.5" fill="#f0a285"/><circle cx="231" r="3.5" fill="#f9e0d6"/><circle cx="254" r="5.5" fill="#b8172a"/><circle cx="282.3" r="8" fill="#f6eeeb"/><circle cx="307.7" r="1.7" fill="#a6cde5"/><circle cx="333.3" r="0.5" fill="#eee"/></g>
<g font-size="7" fill="#1a1a1a" text-anchor="end">
<text transform="translate(81,758) rotate(-45)">Robo1</text><text transform="translate(107,758) rotate(-45)">Calca</text><text transform="translate(134,758) rotate(-45)">Chgb</text><text transform="translate(158.5,758) rotate(-45)">Cartpt</text><text transform="translate(183.5,758) rotate(-45)">Chga</text><text transform="translate(209,758) rotate(-45)">Scg5</text><text transform="translate(235,758) rotate(-45)">Inha</text><text transform="translate(258,758) rotate(-45)">Vgf</text><text transform="translate(286.5,758) rotate(-45)">Pcsk1n</text><text transform="translate(312,758) rotate(-45)">Npw</text><text transform="translate(337.5,758) rotate(-45)">Agrp</text>
</g>
<path d="M66 781H79M92 780.5H342" stroke="#333" stroke-width="0.8"/>
<text x="72" y="797" font-size="10.5" text-anchor="middle">Receptor</text>
<text x="210" y="796" font-size="10.5" text-anchor="middle">Secreted factors</text>
<g font-size="7" fill="#333"><text x="367" y="520">Percent</text><text x="367" y="529">expressed</text><text x="367" y="629">Average</text><text x="367" y="637.5">expression</text></g>
<g fill="#000"><circle cx="381" cy="539" r="0.5"/><circle cx="381" cy="549" r="2.5"/><circle cx="381" cy="561" r="5.5"/><circle cx="381" cy="579" r="8.3"/><circle cx="381" cy="604" r="11"/></g>
<g font-size="7" fill="#333"><text x="400" y="541.5">0</text><text x="400" y="551.5">25</text><text x="400" y="564">50</text><text x="400" y="582">75</text><text x="400" y="606.5">100</text></g>
<rect x="367" y="642" width="10" height="51" fill="url(#rdbuF)"/>
<g font-size="7" fill="#333"><text x="382" y="657.5">1</text><text x="382" y="672.5">0</text><text x="382" y="688.5">−1</text></g>

<!-- ============ PANEL G ============ -->
<text class="lt" x="466" y="510">G</text>
<text x="580" y="509" font-size="16" text-anchor="middle">Saline</text>
<text x="783" y="509" font-size="16" text-anchor="middle">HDM</text>
<g font-size="14">
<text transform="translate(483,660) rotate(-90)" fill="#1a1aff">DAPI</text>
<text transform="translate(483,613) rotate(-90)" fill="#ff22ee">CGRP</text>
<text transform="translate(483,565) rotate(-90)" fill="#22cc22">LAMP3</text>
<text transform="translate(483,813) rotate(-90)" fill="#1a1aff">DAPI</text>
<text transform="translate(483,763) rotate(-90)" fill="#ff22ee">CGRP</text>
<text transform="translate(483,713) rotate(-90)" fill="#22cc22">NRN1</text>
</g>
<g stroke="#9a9a9a" stroke-width="0.8">
<rect x="486" y="516" width="198" height="147" fill="#000"/>
<rect x="688" y="516" width="192" height="147" fill="#000"/>
<rect x="488" y="670" width="196" height="150" fill="#000"/>
<rect x="688" y="670" width="192" height="150" fill="#000"/>
</g>
<!-- TL -->
<path d="M487,663 L500,640 L530,610 L560,580 L590,563 L615,565 L625,600 L640,663 Z" fill="#020214"/>
<g fill="#1f1fe6">
<ellipse cx="567" cy="577" rx="4" ry="3"/><ellipse cx="577" cy="570" rx="4" ry="3"/><ellipse cx="598" cy="565" rx="4" ry="3"/><ellipse cx="612" cy="570" rx="3.5" ry="3"/><ellipse cx="550" cy="590" rx="4" ry="2.8"/><ellipse cx="543" cy="593" rx="3.5" ry="2.5"/><ellipse cx="563" cy="597" rx="4" ry="3"/><ellipse cx="557" cy="603" rx="3.5" ry="2.5"/><ellipse cx="577" cy="600" rx="3" ry="4"/><ellipse cx="590" cy="593" rx="3" ry="3.5"/><ellipse cx="583" cy="610" rx="3.5" ry="3"/><ellipse cx="567" cy="610" rx="4" ry="3"/><ellipse cx="550" cy="607" rx="3.5" ry="2.5"/><ellipse cx="533" cy="613" rx="4" ry="2.5"/><ellipse cx="530" cy="623" rx="3.5" ry="2.5"/><ellipse cx="517" cy="627" rx="4" ry="2.8"/><ellipse cx="510" cy="633" rx="3.5" ry="2.5"/><ellipse cx="503" cy="643" rx="3.5" ry="3"/><ellipse cx="500" cy="652" rx="3" ry="3"/><ellipse cx="523" cy="637" rx="3.5" ry="2.5"/><ellipse cx="537" cy="633" rx="3.5" ry="2.5"/><ellipse cx="550" cy="627" rx="4" ry="3"/><ellipse cx="563" cy="623" rx="3.5" ry="2.5"/><ellipse cx="577" cy="620" rx="3" ry="3.5"/><ellipse cx="590" cy="617" rx="3.5" ry="2.5"/><ellipse cx="603" cy="613" rx="3" ry="3"/><ellipse cx="610" cy="627" rx="3" ry="3.5"/><ellipse cx="593" cy="633" rx="3.5" ry="3"/><ellipse cx="607" cy="643" rx="3" ry="3"/><ellipse cx="617" cy="637" rx="3" ry="2.5"/><ellipse cx="597" cy="650" rx="3.5" ry="3"/><ellipse cx="583" cy="643" rx="3" ry="2.5"/><ellipse cx="567" cy="640" rx="3.5" ry="2.5"/><ellipse cx="550" cy="643" rx="3" ry="2.5"/><ellipse cx="540" cy="650" rx="3.5" ry="2.5"/><ellipse cx="527" cy="650" rx="3" ry="2.5"/><ellipse cx="517" cy="657" rx="3.5" ry="2.5"/><ellipse cx="560" cy="657" rx="3" ry="2.5"/><ellipse cx="590" cy="657" rx="3" ry="2.5"/><ellipse cx="603" cy="657" rx="3" ry="2.5"/>
</g>
<ellipse cx="592" cy="570" rx="19" ry="7.5" fill="#e020d0"/>
<g fill="#5533ee"><ellipse cx="585" cy="572" rx="3" ry="2.5"/><ellipse cx="600" cy="568" rx="3" ry="2.5"/></g>
<g fill="#cc22cc"><circle cx="628" cy="637" r="2"/><circle cx="593" cy="652" r="1.5"/><circle cx="532" cy="655" r="1.2"/></g>
<line x1="628" y1="657" x2="681" y2="657" stroke="#fff" stroke-width="1.3"/>
<!-- TR -->
<path d="M688,516 L830,516 L820,560 L800,620 L760,640 L700,630 L688,600 Z" fill="#020214"/>
<g fill="#1f1fe6">
<ellipse cx="698" cy="525" rx="4" ry="3"/><ellipse cx="710" cy="522" rx="3.5" ry="3"/><ellipse cx="722" cy="530" rx="4" ry="3"/><ellipse cx="735" cy="524" rx="3.5" ry="3"/><ellipse cx="748" cy="520" rx="4" ry="2.5"/><ellipse cx="760" cy="528" rx="3.5" ry="3"/><ellipse cx="772" cy="522" rx="3.5" ry="2.5"/><ellipse cx="785" cy="530" rx="3.5" ry="3"/><ellipse cx="700" cy="540" rx="3.5" ry="3"/><ellipse cx="713" cy="545" rx="4" ry="3"/><ellipse cx="726" cy="540" rx="3.5" ry="3"/><ellipse cx="740" cy="548" rx="4" ry="3"/><ellipse cx="752" cy="540" rx="3.5" ry="3"/><ellipse cx="766" cy="545" rx="3.5" ry="3"/><ellipse cx="780" cy="548" rx="3.5" ry="2.5"/><ellipse cx="795" cy="540" rx="3.5" ry="3"/><ellipse cx="705" cy="560" rx="3.5" ry="3"/><ellipse cx="718" cy="565" rx="3.5" ry="3"/><ellipse cx="732" cy="558" rx="3.5" ry="3"/><ellipse cx="745" cy="565" rx="3.5" ry="3"/><ellipse cx="760" cy="560" rx="3.5" ry="3"/><ellipse cx="775" cy="565" rx="3.5" ry="3"/><ellipse cx="790" cy="560" rx="3.5" ry="3"/><ellipse cx="805" cy="555" rx="3.5" ry="3"/><ellipse cx="700" cy="580" rx="3" ry="2.5"/><ellipse cx="714" cy="585" rx="3" ry="2.5"/><ellipse cx="728" cy="578" rx="3" ry="2.5"/><ellipse cx="742" cy="590" rx="3" ry="2.5"/><ellipse cx="800" cy="575" rx="3.5" ry="3"/><ellipse cx="815" cy="565" rx="3.5" ry="3"/><ellipse cx="822" cy="590" rx="3.5" ry="3"/><ellipse cx="710" cy="600" rx="3" ry="2.5"/><ellipse cx="730" cy="605" rx="3" ry="2.5"/><ellipse cx="795" cy="605" rx="3.5" ry="3"/><ellipse cx="810" cy="612" rx="3" ry="2.5"/><ellipse cx="832" cy="548" rx="3.5" ry="3"/><ellipse cx="845" cy="560" rx="3.5" ry="3"/><ellipse cx="850" cy="575" rx="3.5" ry="3"/><ellipse cx="862" cy="540" rx="3.5" ry="3"/><ellipse cx="870" cy="528" rx="3.5" ry="3"/><ellipse cx="876" cy="590" rx="2.5" ry="3.5"/><ellipse cx="835" cy="600" rx="3" ry="2.5"/><ellipse cx="800" cy="628" rx="3" ry="2.5"/><ellipse cx="812" cy="625" rx="3" ry="2.5"/><ellipse cx="825" cy="630" rx="3" ry="2.5"/><ellipse cx="818" cy="640" rx="3" ry="2.5"/><ellipse cx="835" cy="638" rx="3" ry="2.5"/><ellipse cx="842" cy="645" rx="3" ry="2.5"/><ellipse cx="853" cy="650" rx="3" ry="2.5"/><ellipse cx="790" cy="650" rx="2.5" ry="2"/>
</g>
<ellipse cx="762" cy="592" rx="22" ry="15" fill="#dd33e0"/>
<g fill="#4030e8"><ellipse cx="750" cy="597" rx="4" ry="3"/><ellipse cx="765" cy="599" rx="4" ry="3"/><ellipse cx="776" cy="590" rx="3.5" ry="3"/><ellipse cx="758" cy="606" rx="3.5" ry="2.5"/><ellipse cx="780" cy="602" rx="4" ry="3.5"/></g>
<circle cx="833" cy="635" r="2.5" fill="#cc33cc"/>
<g fill="#2ab82a"><ellipse cx="778" cy="535" rx="4" ry="5"/><ellipse cx="828" cy="552" rx="4" ry="4"/><circle cx="840" cy="533" r="3"/><ellipse cx="862" cy="521" rx="4" ry="5"/><circle cx="770" cy="560" r="2" fill="#1a6a1a"/></g>
<path d="M763,618 L758,631 L768,631 Z" fill="#fff"/>
<line x1="822" y1="657" x2="874" y2="657" stroke="#fff" stroke-width="1.3"/>
<!-- BL -->
<path d="M488,690 C510,688 530,700 545,715 C560,740 570,780 590,820 L488,820 Z" fill="#0a0a50"/>
<path d="M488,760 C510,752 540,755 565,775 C575,790 582,805 590,820 L488,820 Z" fill="#1a1aa0"/>
<path d="M558,670 L585,670 C590,690 592,705 592,720 C594,745 598,770 605,790 C610,805 614,815 616,820 L590,820 C582,800 574,780 568,760 C562,735 558,710 556,690 Z" fill="#1c1cc8"/>
<g fill="#2424b8"><ellipse cx="500" cy="735" rx="5" ry="4"/><ellipse cx="520" cy="725" rx="4" ry="6"/><ellipse cx="535" cy="745" rx="5" ry="4"/><ellipse cx="512" cy="700" rx="3" ry="5"/></g>
<ellipse cx="580" cy="736" rx="12" ry="22" fill="#d020d0"/>
<g fill="#a030e0"><ellipse cx="578" cy="726" rx="4" ry="3.5"/><ellipse cx="583" cy="740" rx="4" ry="3.5"/><ellipse cx="577" cy="752" rx="4" ry="3"/></g>
<g fill="#cc33cc"><circle cx="502" cy="790" r="1.2"/><circle cx="520" cy="800" r="1"/></g>
<line x1="603" y1="809" x2="675" y2="809" stroke="#fff" stroke-width="1.3"/>
<!-- BR -->
<path d="M722,705 C735,695 760,700 785,705 C800,712 808,735 812,760 C816,785 820,805 818,820 L778,820 C772,800 770,780 762,760 C752,740 740,728 728,722 C720,718 718,710 722,705 Z" fill="#2020d0"/>
<path d="M752,712 C770,708 788,720 795,745 C800,770 805,800 808,820 L790,820 C786,800 780,780 772,760 C765,740 758,725 752,712 Z" fill="#e020e0"/>
<path d="M748,755 C760,760 770,790 775,820 L745,820 C742,795 742,770 748,755 Z" fill="#101090"/>
<g fill="#6040f0"><ellipse cx="768" cy="722" rx="5" ry="4"/><ellipse cx="782" cy="740" rx="5" ry="4"/><ellipse cx="790" cy="765" rx="5" ry="4"/></g>
<g fill="#33dd88"><circle cx="733" cy="699" r="1.5"/><circle cx="738" cy="702" r="1.5"/><circle cx="742" cy="705" r="1.2"/><circle cx="770" cy="720" r="1.3"/><circle cx="782" cy="718" r="1.5"/><circle cx="793" cy="722" r="1.3"/><circle cx="800" cy="769" r="1.3"/><circle cx="767" cy="795" r="1.5"/></g>
<path d="M763,705 L758,692 L768,692 Z" fill="#fff"/>
<line x1="798" y1="809" x2="871" y2="809" stroke="#fff" stroke-width="1.3"/>
</svg>
</body></html>
